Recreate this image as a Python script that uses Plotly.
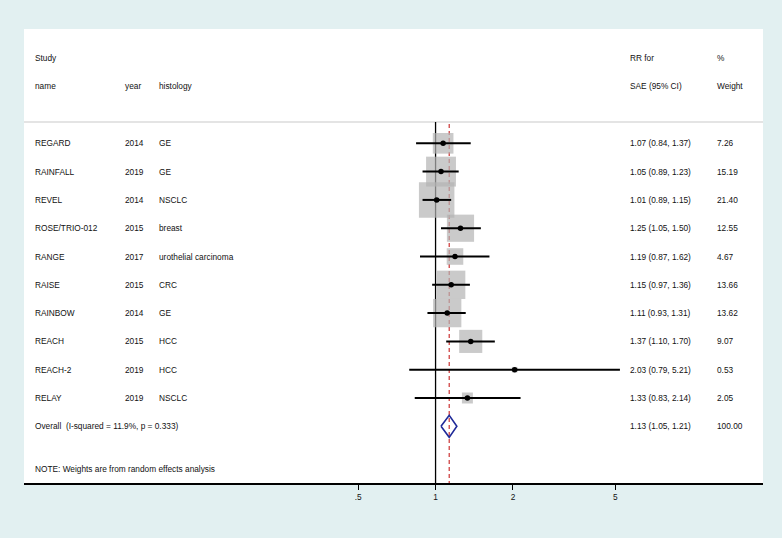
import math
import plotly.graph_objects as go

# ---- data ----
study = ["REGARD", "RAINFALL", "REVEL", "ROSE/TRIO-012", "RANGE", "RAISE",
         "RAINBOW", "REACH", "REACH-2", "RELAY"]
year = ["2014", "2019", "2014", "2015", "2017", "2015", "2014", "2015", "2019", "2019"]
histology = ["GE", "GE", "NSCLC", "breast", "urothelial carcinoma", "CRC", "GE",
             "HCC", "HCC", "NSCLC"]
rr = [1.07, 1.05, 1.01, 1.25, 1.19, 1.15, 1.11, 1.37, 2.03, 1.33]
lo = [0.84, 0.89, 0.89, 1.05, 0.87, 0.97, 0.93, 1.10, 0.79, 0.83]
hi = [1.37, 1.23, 1.15, 1.50, 1.62, 1.36, 1.31, 1.70, 5.21, 2.14]
weight = [7.26, 15.19, 21.40, 12.55, 4.67, 13.66, 13.62, 9.07, 0.53, 2.05]
overall_rr, overall_lo, overall_hi = 1.13, 1.05, 1.21
overall_label = "Overall  (I-squared = 11.9%, p = 0.333)"
note = "NOTE: Weights are from random effects analysis"
tick_vals = [0.5, 1, 2, 5]
tick_text = [".5", "1", "2", "5"]

FONT = "Liberation Sans, Arial, Helvetica, sans-serif"
FS = 8.3
TXT = "#111111"
BG = "#e2f0f1"

rows = list(range(1, len(study) + 1))
overall_row = len(study) + 1

fig = go.Figure()

# weight boxes
fig.add_trace(go.Scatter(
    x=rr, y=rows, mode="markers",
    marker=dict(symbol="square", size=[7.67 * math.sqrt(w) for w in weight],
                color="#b4b4b4", line=dict(width=0)),
    hoverinfo="skip", showlegend=False))

# CI lines
cx, cy = [], []
for l, h, r in zip(lo, hi, rows):
    cx += [l, h, None]
    cy += [r, r, None]
fig.add_trace(go.Scatter(x=cx, y=cy, mode="lines",
                         line=dict(color="black", width=2),
                         hoverinfo="skip", showlegend=False))

# point estimates
fig.add_trace(go.Scatter(x=rr, y=rows, mode="markers",
                         marker=dict(symbol="circle", size=5.5, color="black"),
                         hoverinfo="skip", showlegend=False))

# overall diamond
dh = 0.39
fig.add_trace(go.Scatter(
    x=[overall_lo, overall_rr, overall_hi, overall_rr, overall_lo],
    y=[overall_row, overall_row - dh, overall_row, overall_row + dh, overall_row],
    mode="lines", line=dict(color="#1f2a99", width=1.6),
    hoverinfo="skip", showlegend=False))

sep_y = 0.247
# reference lines (below traces)
fig.add_shape(type="line", xref="x", yref="y", x0=1, x1=1, y0=sep_y, y1=13.003,
              line=dict(color="black", width=1.3), layer="below")
fig.add_shape(type="line", xref="x", yref="y", x0=overall_rr, x1=overall_rr,
              y0=0.32, y1=13.003,
              line=dict(color="#cc3333", width=1.2, dash="4px,3px"), layer="below")
# header separator
fig.add_shape(type="line", xref="paper", yref="y", x0=0, x1=1, y0=sep_y, y1=sep_y,
              line=dict(color="#c9c9c9", width=1.2), layer="below")

# text columns
col_name, col_year, col_hist, col_ci, col_w = 0.0118, 0.1343, 0.180, 0.8177, 0.935

def txt(x, y, s):
    fig.add_annotation(x=x, y=y, xref="paper", yref="y", text=s, showarrow=False,
                       xanchor="left", yanchor="middle",
                       font=dict(family=FONT, size=FS, color=TXT))

txt(col_name, -2.003, "Study")
txt(col_name, -1.014, "name")
txt(col_year, -1.014, "year")
txt(col_hist, -1.014, "histology")
txt(col_ci, -2.003, "RR for")
txt(col_ci, -1.014, "SAE (95% CI)")
txt(col_w, -2.003, "%")
txt(col_w, -1.014, "Weight")

for i, r in enumerate(rows):
    txt(col_name, r, study[i])
    txt(col_year, r, year[i])
    txt(col_hist, r, histology[i])
    txt(col_ci, r, f"{rr[i]:.2f} ({lo[i]:.2f}, {hi[i]:.2f})")
    txt(col_w, r, f"{weight[i]:.2f}")

txt(col_name, overall_row, overall_label)
txt(col_ci, overall_row, f"{overall_rr:.2f} ({overall_lo:.2f}, {overall_hi:.2f})")
txt(col_w, overall_row, f"{sum(weight):.2f}")
txt(col_name, 12.51, note)

fig.update_layout(
    width=782, height=538, autosize=False,
    margin=dict(l=24, r=19, t=29, b=55),
    paper_bgcolor=BG, plot_bgcolor="white",
    showlegend=False,
    xaxis=dict(type="log", range=[-1.600, 1.273], tickvals=tick_vals, ticktext=tick_text,
               ticks="outside", ticklen=5, tickwidth=1.3, tickcolor="black",
               showline=True, linecolor="black", linewidth=1.5,
               showgrid=False, zeroline=False, fixedrange=True,
               tickfont=dict(family=FONT, size=FS, color=TXT)),
    yaxis=dict(range=[13.003, -3.039], visible=False, fixedrange=True),
)

fig.write_html("out.html", config={"displayModeBar": False},
               post_script="document.body.style.margin='0';document.body.style.background='%s';" % BG)
